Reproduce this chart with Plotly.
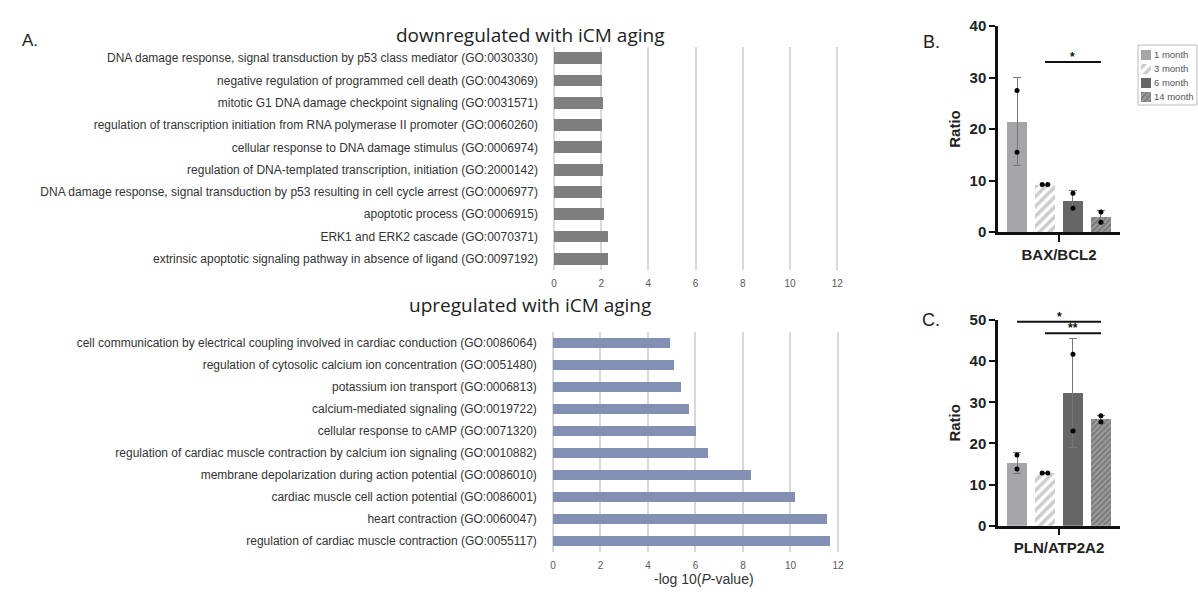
import plotly.graph_objects as go

W, H = 1198, 594

# ---------------- data ----------------
down_terms = [
    "DNA damage response, signal transduction by p53 class mediator (GO:0030330)",
    "negative regulation of programmed cell death (GO:0043069)",
    "mitotic G1 DNA damage checkpoint signaling (GO:0031571)",
    "regulation of transcription initiation from RNA polymerase II promoter (GO:0060260)",
    "cellular response to DNA damage stimulus (GO:0006974)",
    "regulation of DNA-templated transcription, initiation (GO:2000142)",
    "DNA damage response, signal transduction by p53 resulting in cell cycle arrest (GO:0006977)",
    "apoptotic process (GO:0006915)",
    "ERK1 and ERK2 cascade (GO:0070371)",
    "extrinsic apoptotic signaling pathway in absence of ligand (GO:0097192)",
]
down_vals = [2.05, 2.05, 2.06, 2.05, 2.05, 2.06, 2.05, 2.12, 2.3, 2.3]

up_terms = [
    "cell communication by electrical coupling involved in cardiac conduction (GO:0086064)",
    "regulation of cytosolic calcium ion concentration (GO:0051480)",
    "potassium ion transport (GO:0006813)",
    "calcium-mediated signaling (GO:0019722)",
    "cellular response to cAMP (GO:0071320)",
    "regulation of cardiac muscle contraction by calcium ion signaling (GO:0010882)",
    "membrane depolarization during action potential (GO:0086010)",
    "cardiac muscle cell action potential (GO:0086001)",
    "heart contraction (GO:0060047)",
    "regulation of cardiac muscle contraction (GO:0055117)",
]
up_vals = [4.9, 5.07, 5.4, 5.73, 6.02, 6.54, 8.34, 10.18, 11.55, 11.66]

groups = ["1 month", "3 month", "6 month", "14 month"]
group_x = [0, 1, 2, 3]

bax_mean = [21.4, 9.2, 6.1, 2.9]
bax_low = [13.0, 9.1, 4.3, 1.6]
bax_high = [30.0, 9.3, 8.1, 4.2]
bax_points = [[27.5, 15.5], [9.2, 9.2], [7.5, 4.6], [3.9, 1.9]]

pln_mean = [15.3, 12.8, 32.2, 25.9]
pln_low = [12.7, 12.7, 19.1, 24.9]
pln_high = [17.9, 12.9, 45.6, 26.9]
pln_points = [[17.2, 13.8], [12.8, 12.8], [41.7, 23.0], [26.7, 25.2]]

# ---------------- helpers ----------------
def fx(px):
    return px / W

def fy(py):
    return 1 - py / H

ARIAL = "Liberation Sans, Arial, sans-serif"
TITLEFONT = "Open Sans, sans-serif"

styles = [
    dict(color="#a6a6a8", pattern=dict(shape="")),
    dict(color="white", pattern=dict(shape="/", fgcolor="#999999", bgcolor="white", size=7, solidity=0.5)),
    dict(color="#666666", pattern=dict(shape="")),
    dict(color="#8a8a8a", pattern=dict(shape="/", fgcolor="#555555", bgcolor="#9d9d9d", size=4, solidity=0.5)),
]
pt_offsets = [[0, 0], [-0.1, 0.1], [0, 0], [0, 0]]

fig = go.Figure()

# Panel A top
fig.add_trace(go.Bar(
    x=down_vals, y=down_terms, orientation="h", width=0.53,
    marker=dict(color="#7f7f7f", line=dict(width=0)),
    xaxis="x", yaxis="y", showlegend=False,
))
# Panel A bottom
fig.add_trace(go.Bar(
    x=up_vals, y=up_terms, orientation="h", width=0.45,
    marker=dict(color="#8390b3", line=dict(width=0)),
    xaxis="x2", yaxis="y2", showlegend=False,
))

# Panels B and C
for means, lows, highs, pts, xa, ya in [
    (bax_mean, bax_low, bax_high, bax_points, "x3", "y3"),
    (pln_mean, pln_low, pln_high, pln_points, "x4", "y4"),
]:
    for i, g in enumerate(groups):
        st = styles[i]
        fig.add_trace(go.Bar(
            x=[group_x[i]], y=[means[i]], width=0.71, name=g,
            marker=dict(color=st["color"], pattern=st["pattern"], line=dict(width=0)),
            error_y=dict(type="data", symmetric=False,
                         array=[highs[i] - means[i]], arrayminus=[means[i] - lows[i]],
                         color="#777777", thickness=1, width=4),
            xaxis=xa, yaxis=ya, showlegend=False,
        ))
    for i in range(4):
        fig.add_trace(go.Scatter(
            x=[group_x[i] + o for o in pt_offsets[i]], y=pts[i], mode="markers",
            marker=dict(color="black", size=5),
            xaxis=xa, yaxis=ya, showlegend=False, cliponaxis=False, hoverinfo="skip",
        ))

# Legend swatches (custom legend drawn in its own small axis)
for i, g in enumerate(groups):
    st = styles[i]
    fig.add_trace(go.Bar(
        x=[1], y=[g], orientation="h", width=0.72,
        marker=dict(color=st["color"], pattern=st["pattern"], line=dict(width=0)),
        xaxis="x5", yaxis="y5", showlegend=False, hoverinfo="skip",
    ))

# ---------------- axes ----------------
grid = dict(showgrid=True, gridcolor="#d9d9d9", gridwidth=1.5, zeroline=False,
            tickvals=[0, 2, 4, 6, 8, 10, 12], tickfont=dict(family=ARIAL, size=10, color="#595959"),
            showline=False, ticks="", ticklabelstandoff=6, range=[-0.3, 13.0], automargin=False)
catax = dict(showgrid=False, zeroline=False, showline=False, ticks="",
             tickfont=dict(family=ARIAL, size=12, color="#333333"), ticklabelstandoff=8,
             range=[9.5, -0.5], automargin=False)

fig.update_layout(
    xaxis=dict(domain=[fx(554 - 0.3 * 23.6), fx(554 + 13.0 * 23.6)], anchor="y", **grid),
    yaxis=dict(domain=[fy(270), fy(47)], anchor="x", **catax),
    xaxis2=dict(domain=[fx(553 - 0.3 * 23.75), fx(553 + 13.0 * 23.75)], anchor="y2",
                title=dict(text="-log 10(<i>P</i>-value)", font=dict(family=ARIAL, size=14, color="#333333"),
                           standoff=4), **grid),
    yaxis2=dict(domain=[fy(552), fy(332)], anchor="x2", **catax),
    xaxis5=dict(domain=[fx(1141), fx(1151)], anchor="y5", range=[0, 1], visible=False),
    yaxis5=dict(domain=[fy(104), fy(48)], anchor="x5", range=[3.5, -0.5], visible=False),
)

bold_tick = dict(family=ARIAL, size=15, color="#222222", weight="bold")
for xa, ya, top_px, bot_px, rng, dtick, lab in [
    ("xaxis3", "yaxis3", 26, 232, [0, 40], 10, "BAX/BCL2"),
    ("xaxis4", "yaxis4", 320, 525.7, [0, 50], 10, "PLN/ATP2A2"),
]:
    n = xa[-1]
    fig.layout[xa] = dict(domain=[fx(998), fx(1120)], anchor="y" + n, range=[-0.68, 3.68],
                          showline=True, linecolor="#111111", linewidth=2.5,
                          tickvals=[1.5], ticktext=[lab], ticks="outside", ticklen=7, tickwidth=2,
                          tickcolor="#111111", tickfont=bold_tick, showgrid=False, zeroline=False,
                          automargin=False)
    fig.layout[ya] = dict(domain=[fy(bot_px), fy(top_px)], anchor="x" + n, range=rng, dtick=dtick,
                          showline=True, linecolor="#111111", linewidth=2.5,
                          ticks="outside", ticklen=6, tickwidth=2, tickcolor="#111111",
                          tickfont=bold_tick, showgrid=False, zeroline=False, automargin=False,
                          title=dict(text="Ratio", font=dict(family=ARIAL, size=15, color="#222222", weight="bold"),
                                     standoff=6))

# ---------------- significance bars ----------------
shapes = []
annos = []
for xr, yr, x0, x1, yv, star in [
    ("x3", "y3", 1, 3, 33.0, "*"),
    ("x4", "y4", 0, 3, 49.6, "*"),
    ("x4", "y4", 1, 3, 46.8, "**"),
]:
    shapes.append(dict(type="line", xref=xr, yref=yr, x0=x0, x1=x1, y0=yv, y1=yv,
                       line=dict(color="#111111", width=2)))
    annos.append(dict(xref=xr, yref=yr, x=(x0 + x1) / 2, y=yv, text="<b>" + star + "</b>", showarrow=False,
                      yanchor="bottom", yshift=-4, font=dict(family=ARIAL, size=12, color="#111111")))

# legend frame and labels
shapes.append(dict(type="rect", xref="paper", yref="paper", x0=fx(1138), x1=fx(1197),
                   y0=fy(105), y1=fy(45), line=dict(color="#bbbbbb", width=1)))
for i, g in enumerate(groups):
    annos.append(dict(xref="paper", yref="y5", x=fx(1152), y=g, text=g, showarrow=False,
                      xanchor="left", font=dict(family=ARIAL, size=9.5, color="#555555")))

# ---------------- titles / panel letters ----------------
annos += [
    dict(xref="paper", yref="paper", x=fx(530), y=fy(20), text="downregulated with iCM aging",
         showarrow=False, font=dict(family=TITLEFONT, size=19, color="#222222")),
    dict(xref="paper", yref="paper", x=fx(530), y=fy(305), text="upregulated with iCM aging",
         showarrow=False, font=dict(family=TITLEFONT, size=19, color="#222222")),
    dict(xref="paper", yref="paper", x=fx(20), y=fy(29), text="A.",
         showarrow=False, font=dict(family=ARIAL, size=17, color="#222222")),
    dict(xref="paper", yref="paper", x=fx(942), y=fy(30), text="B.",
         showarrow=False, font=dict(family=ARIAL, size=18, color="#222222")),
    dict(xref="paper", yref="paper", x=fx(942), y=fy(320), text="C.",
         showarrow=False, font=dict(family=ARIAL, size=18, color="#222222")),
]

fig.update_layout(
    width=W, height=H, margin=dict(l=0, r=0, t=0, b=0, autoexpand=False),
    paper_bgcolor="white", plot_bgcolor="white", showlegend=False,
    shapes=shapes, annotations=annos, bargap=0,
)

fig.write_html("out.html", post_script="document.body.style.margin='0px';",
               config={"displayModeBar": False})
